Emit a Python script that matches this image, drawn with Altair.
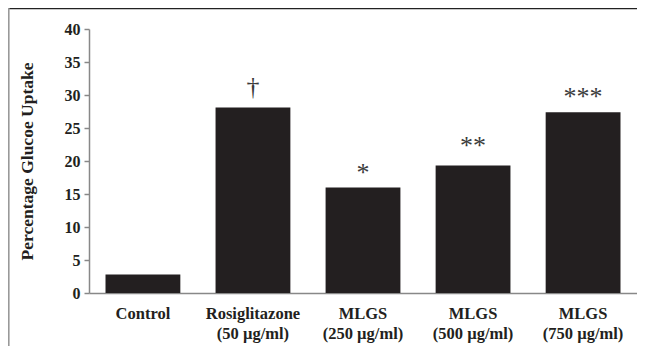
import altair as alt
import pandas as pd

# ---- data ----
categories = ["Control", "Rosiglitazone|(50 µg/ml)", "MLGS|(250 µg/ml)",
              "MLGS|(500 µg/ml)", "MLGS|(750 µg/ml)"]
uptake = [2.8, 28.1, 16.0, 19.3, 27.4]
sig_marks = ["", "†", "*", "**", "***"]
sig_level = [0.0, 30.0, 17.0, 21.1, 28.5]
y_ticks = [0, 5, 10, 15, 20, 25, 30, 35, 40]

df = pd.DataFrame({"group": categories, "uptake": uptake,
                   "sig": sig_marks, "sig_y": sig_level})

FONT = "Liberation Serif"
INK = "#231f20"
AX = "#888888"
W, H = 548, 264

xaxis = alt.Axis(labelAngle=0, labelExpr="split(datum.label, '|')", ticks=False,
                 labelPadding=12, labelFont=FONT, labelFontSize=16.5,
                 labelFontWeight="bold", labelColor=INK, labelLineHeight=20,
                 domainColor=AX, domainWidth=1.5, title=None)
xscale = alt.Scale(paddingInner=0.32, paddingOuter=0.15)

yaxis = alt.Axis(values=y_ticks, grid=False, tickSize=5, tickColor=AX, tickWidth=1.5,
                 domainColor=AX, domainWidth=1.5, labelPadding=4, labelFont=FONT,
                 labelFontSize=16, labelFontWeight="bold", labelColor=INK,
                 title="Percentage Glucoe Uptake", titleFont=FONT, titleFontSize=17.5,
                 titleFontWeight="bold", titleColor=INK, titleX=-62, titleY=H / 2,
                 titleAngle=-90, titleAlign="center", titleBaseline="middle")
yscale = alt.Scale(domain=[0, 40], nice=False)

base = alt.Chart(df)

bars = base.mark_bar(color=INK).encode(
    x=alt.X("group:N", sort=categories, scale=xscale, axis=xaxis),
    y=alt.Y("uptake:Q", scale=yscale, axis=yaxis),
)

labels = base.mark_text(font=FONT, fontSize=26, color="#3a3a3a",
                        baseline="alphabetic").encode(
    x=alt.X("group:N", sort=categories, scale=xscale, axis=xaxis),
    y=alt.Y("sig_y:Q", scale=yscale, axis=yaxis),
    text="sig:N",
)

frame = alt.Data(values=[{"k": 1}])
top_line = alt.Chart(frame).mark_rule(color="#222222", strokeWidth=1.5).encode(
    x=alt.value(-81), x2=alt.value(W), y=alt.value(-20.5))
left_line = alt.Chart(frame).mark_rule(color="#999999", strokeWidth=1.6).encode(
    x=alt.value(-80.2), y=alt.value(-21), y2=alt.value(H + 60))

chart = alt.layer(bars, labels, top_line, left_line).properties(
    width=W, height=H,
    autosize=alt.AutoSizeParams(type="none"),
    padding={"left": 81, "top": 21, "right": 0, "bottom": 53},
).configure_view(stroke=None)

chart.save("out.html", embed_options={"renderer": "svg", "actions": False})
